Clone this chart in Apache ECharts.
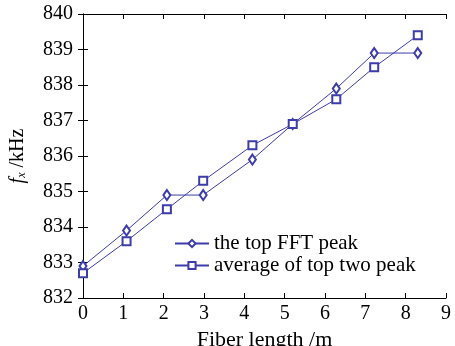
<!DOCTYPE html>
<html>
<head>
<meta charset="utf-8">
<script src="https://cdn.jsdelivr.net/npm/echarts@6/dist/echarts.min.js"></script>
<style>
  html, body { margin: 0; padding: 0; background: #fff; }
  #chart { width: 455px; height: 346px; }
</style>
</head>
<body>
<div id="chart"></div>
<script>
// fiber length (m) and the two frequency estimates (kHz)
const lengths = [0, 1.08, 2.08, 2.98, 4.2, 5.2, 6.28, 7.22, 8.3];
const topPeak = [832.9, 833.9, 834.9, 834.9, 835.9, 836.9, 837.9, 838.9, 838.9];
const avgTwoPeak = [832.7, 833.6, 834.5, 835.3, 836.3, 836.9, 837.6, 838.5, 839.4];
const seriesNames = ["the top FFT peak", "average of top two peak"];

const lineColor = "#3c3caa";
const font = "Liberation Serif";

const chart = echarts.init(document.getElementById("chart"));

const pairs = (ys) => lengths.map((x, i) => [x, ys[i]]);

const boxAxis = {
  axisLine: { show: true, lineStyle: { color: "#000", width: 1 } },
  axisTick: { show: true, inside: true, length: 5, lineStyle: { color: "#000" } },
  splitLine: { show: false },
};

const option = {
  animation: false,
  backgroundColor: "#fff",
  grid: { left: 83, right: 9, top: 14, bottom: 48, outerBoundsMode: "none", containLabel: false },
  xAxis: [
    {
      ...boxAxis,
      type: "value",
      min: 0,
      max: 9,
      interval: 1,
      name: "Fiber length /m",
      nameLocation: "middle",
      nameGap: 23,
      nameTextStyle: { fontFamily: font, fontSize: 22, color: "#000" },
      axisLabel: { fontFamily: font, fontSize: 20, color: "#000", margin: 6 },
    },
    {
      ...boxAxis,
      type: "value",
      position: "top",
      min: 0,
      max: 9,
      interval: 1,
      axisLabel: { show: false },
    },
  ],
  yAxis: [
    {
      ...boxAxis,
      type: "value",
      min: 832,
      max: 840,
      interval: 1,
      name: "{i|f}{s|x} /kHz",
      nameLocation: "middle",
      nameGap: 55,
      nameTextStyle: {
        fontFamily: font,
        fontSize: 20,
        color: "#000",
        rich: {
          i: { fontFamily: font, fontStyle: "italic", fontSize: 20, color: "#000" },
          s: { fontFamily: font, fontStyle: "italic", fontSize: 12, color: "#000", verticalAlign: "bottom", padding: [8, 0, 0, 0] },
        },
      },
      axisLabel: { fontFamily: font, fontSize: 20, color: "#000", margin: 10 },
    },
    {
      ...boxAxis,
      type: "value",
      position: "right",
      min: 832,
      max: 840,
      interval: 1,
      axisLabel: { show: false },
    },
  ],
  legend: {
    left: 169,
    top: 228,
    orient: "vertical",
    itemWidth: 34,
    itemHeight: 9,
    itemGap: 1,
    textStyle: { fontFamily: font, fontSize: 21, color: "#000" },
    data: seriesNames,
  },
  series: [
    {
      name: seriesNames[0],
      type: "line",
      data: pairs(topPeak),
      symbol: "emptyDiamond",
      symbolSize: [7, 10],
      lineStyle: { color: lineColor, width: 1 },
      itemStyle: { color: lineColor, borderColor: lineColor, borderWidth: 1 },
    },
    {
      name: seriesNames[1],
      type: "line",
      data: pairs(avgTwoPeak),
      symbol: "emptyRect",
      symbolSize: 8,
      lineStyle: { color: lineColor, width: 1 },
      itemStyle: { color: lineColor, borderColor: lineColor, borderWidth: 1.2 },
    },
  ],
};

chart.setOption(option);
</script>
</body>
</html>
